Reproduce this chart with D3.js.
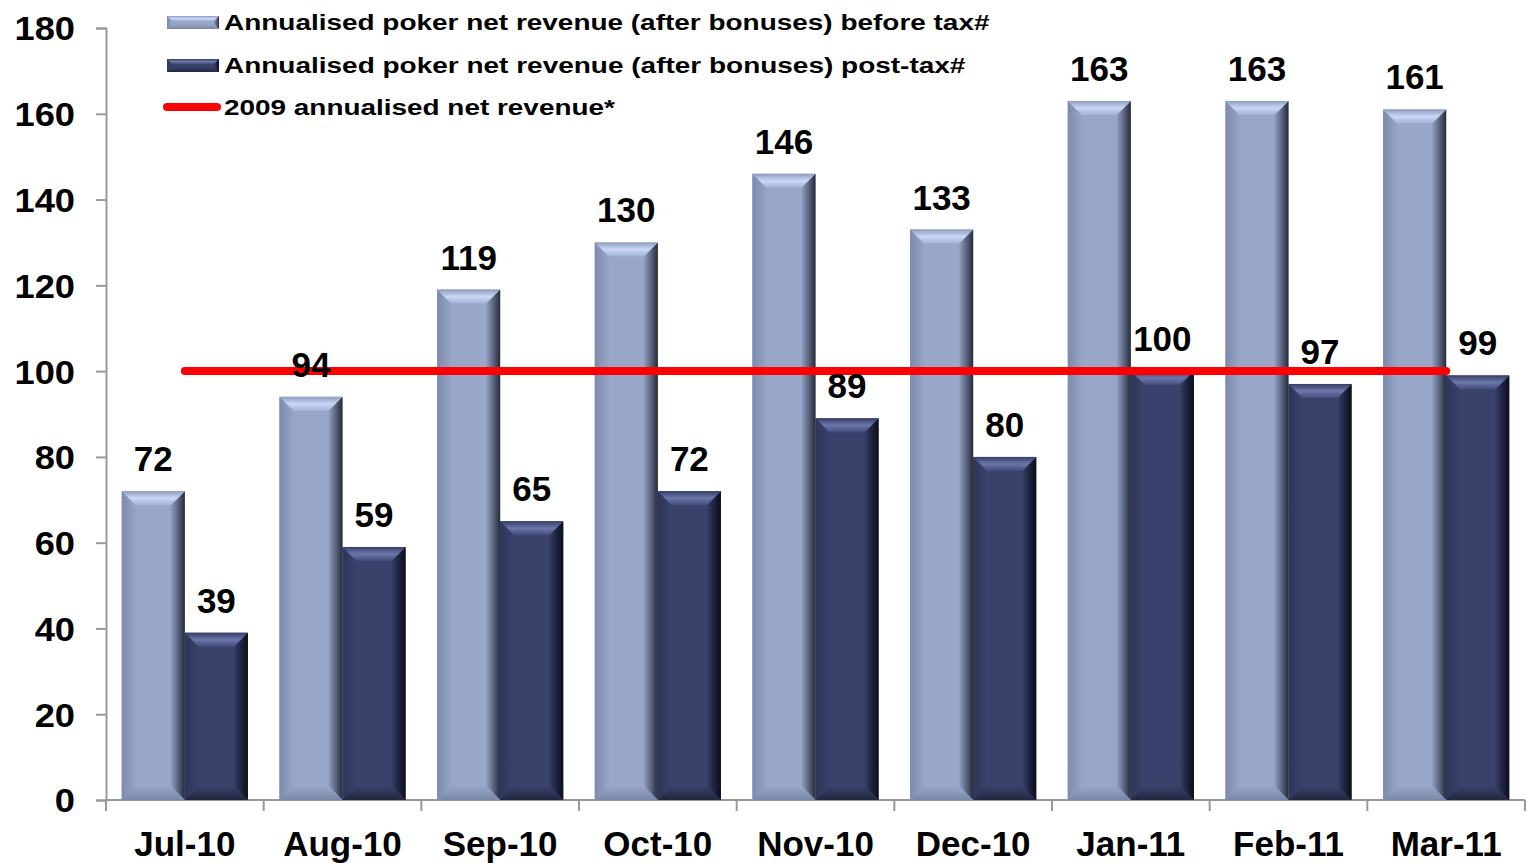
<!DOCTYPE html>
<html>
<head>
<meta charset="utf-8">
<script src="https://cdn.jsdelivr.net/npm/d3@7"></script>
<style>
  body { margin: 0; background: #fff; }
  text { font-family: "Liberation Sans", Arial, sans-serif; font-weight: bold; fill: #000; }
</style>
</head>
<body>
<script>
const months = ["Jul-10", "Aug-10", "Sep-10", "Oct-10", "Nov-10", "Dec-10", "Jan-11", "Feb-11", "Mar-11"];
const beforeTax = [72, 94, 119, 130, 146, 133, 163, 163, 161];
const postTax = [39, 59, 65, 72, 89, 80, 100, 97, 99];
const benchmark2009 = 100;
const yTicks = [0, 20, 40, 60, 80, 100, 120, 140, 160, 180];
const legendLabels = [
    "Annualised poker net revenue (after bonuses) before tax#",
    "Annualised poker net revenue (after bonuses) post-tax#",
    "2009 annualised net revenue*"
];

const width = 1527, height = 863;
const margin = {top: 28, right: 2, bottom: 63, left: 106};

const svg = d3.select("body").append("svg")
    .attr("width", width)
    .attr("height", height);

const x = d3.scaleBand()
    .domain(months)
    .range([margin.left, width - margin.right])
    .paddingInner(0.2)
    .paddingOuter(0.1);
const xSub = d3.scaleBand()
    .domain(["before", "post"])
    .range([0, x.bandwidth()]);
const y = d3.scaleLinear()
    .domain([0, 180])
    .range([height - margin.bottom, margin.top]);

// bevel colours per series (stops from outer edge to inner edge)
const styles = {
    before: {body: "#98a7c8",
        top: ["#8e9bbf", "#c9d8f7", "#a3b3d4"],
        left: ["#7c8aac", "#96a5c6"],
        right: ["#909fc0", "#5c6782", "#262a38"],
        bottom: ["#98a7c8", "#7a88a8"]},
    post: {body: "#3a426c",
        top: ["#363e68", "#6c77aa", "#434b7a"],
        left: ["#2e3558", "#3a426c"],
        right: ["#373f68", "#1e2340", "#0c0e1a"],
        bottom: ["#3a426c", "#22263e"]}
};

const defs = svg.append("defs");
function grad(id, c, x2, y2) {
    const g = defs.append("linearGradient").attr("id", id)
        .attr("x1", 0).attr("y1", 0).attr("x2", x2).attr("y2", y2);
    c.forEach((col, i) => g.append("stop")
        .attr("offset", (i / (c.length - 1) * 100) + "%").attr("stop-color", col));
}
Object.entries(styles).forEach(([k, s]) => {
    grad(k + "-top", s.top, 0, 1);
    grad(k + "-left", s.left, 1, 0);
    grad(k + "-right", s.right, 1, 0);
    grad(k + "-bottom", s.bottom, 0, 1);
});

function bevelBar(g, key, x0, y0, w, h, b) {
    const x1 = x0 + w, y1 = y0 + h;
    b = Math.min(b, h / 2, w / 2);
    g.append("rect").attr("x", x0).attr("y", y0).attr("width", w).attr("height", h)
        .attr("fill", styles[key].body);
    const poly = (pts, fill) => g.append("polygon")
        .attr("points", pts.map(p => p.join(",")).join(" "))
        .attr("fill", "url(#" + key + "-" + fill + ")");
    poly([[x0, y0], [x0 + b, y0 + b], [x0 + b, y1 - b], [x0, y1]], "left");
    poly([[x1, y0], [x1, y1], [x1 - b, y1 - b], [x1 - b, y0 + b]], "right");
    poly([[x0, y1], [x0 + b, y1 - b], [x1 - b, y1 - b], [x1, y1]], "bottom");
    poly([[x0, y0], [x1, y0], [x1 - b, y0 + b], [x0 + b, y0 + b]], "top");
}

// axes
const axisColor = "#999";
const yAxis = svg.append("g")
    .attr("transform", "translate(" + margin.left + ",0)")
    .call(d3.axisLeft(y).tickValues(yTicks).tickSize(10));
yAxis.select(".domain").attr("stroke", axisColor).attr("stroke-width", 2);
yAxis.selectAll(".tick line").attr("stroke", axisColor).attr("stroke-width", 2);
yAxis.selectAll(".tick text")
    .attr("font-size", 33).attr("dy", "0.36em").attr("fill", "#000")
    .attr("font-family", "'Liberation Sans', Arial, sans-serif")
    .attr("x", 0)
    .attr("transform", "translate(-31,0) scale(1.1,1)");

const xAxisG = svg.append("g")
    .attr("transform", "translate(0," + y(0) + ")");
xAxisG.append("line")
    .attr("x1", margin.left).attr("x2", width - margin.right)
    .attr("stroke", axisColor).attr("stroke-width", 2);
const bounds = months.map(m => x(m) - x.step() * 0.1).concat([x(months[months.length - 1]) + x.bandwidth() + x.step() * 0.1]);
xAxisG.selectAll(".xt").data(bounds).enter().append("line")
    .attr("x1", d => d).attr("x2", d => d)
    .attr("y1", 0).attr("y2", 11)
    .attr("stroke", axisColor).attr("stroke-width", 2);
xAxisG.selectAll(".xl").data(months).enter().append("text")
    .attr("x", d => x(d) + x.bandwidth() / 2)
    .attr("y", 56)
    .attr("text-anchor", "middle")
    .attr("font-size", 35)
    .text(d => d);

// bars
const bars = svg.append("g");
months.forEach((m, i) => {
    bevelBar(bars, "before", x(m) + xSub("before"), y(beforeTax[i]), xSub.bandwidth(), y(0) - y(beforeTax[i]), 14);
    bevelBar(bars, "post", x(m) + xSub("post"), y(postTax[i]), xSub.bandwidth(), y(0) - y(postTax[i]), 14);
});

// 2009 reference line
const first = months[0], last = months[months.length - 1];
svg.append("line")
    .attr("x1", x(first) + x.bandwidth() / 2)
    .attr("x2", x(last) + x.bandwidth() / 2)
    .attr("y1", y(benchmark2009)).attr("y2", y(benchmark2009))
    .attr("stroke", "#ff0000").attr("stroke-width", 8).attr("stroke-linecap", "round");

// value labels
const labels = svg.append("g").attr("text-anchor", "middle").attr("font-size", 35);
months.forEach((m, i) => {
    labels.append("text")
        .attr("x", x(m) + xSub("before") + xSub.bandwidth() / 2)
        .attr("y", y(beforeTax[i]) - 20)
        .text(beforeTax[i]);
    labels.append("text")
        .attr("x", x(m) + xSub("post") + xSub.bandwidth() / 2)
        .attr("y", y(postTax[i]) - 20)
        .text(postTax[i]);
});

// legend
const legend = svg.append("g");
const legendRows = [22, 65, 107];
const legendWidths = [766, 742, 391];
["before", "post"].forEach((k, i) => {
    bevelBar(legend, k, 167, legendRows[i] - 6, 52, 13, 5);
});
legend.append("line")
    .attr("x1", 167).attr("x2", 217)
    .attr("y1", legendRows[2]).attr("y2", legendRows[2])
    .attr("stroke", "#ff0000").attr("stroke-width", 8).attr("stroke-linecap", "round");
legendLabels.forEach((t, i) => {
    const txt = legend.append("text")
        .attr("x", 0).attr("y", 0)
        .attr("font-size", 22)
        .text(t);
    const k = legendWidths[i] / txt.node().getComputedTextLength();
    txt.attr("transform", "translate(224," + (legendRows[i] + 7.5) + ") scale(" + k + ",1)");
});
</script>
</body>
</html>
